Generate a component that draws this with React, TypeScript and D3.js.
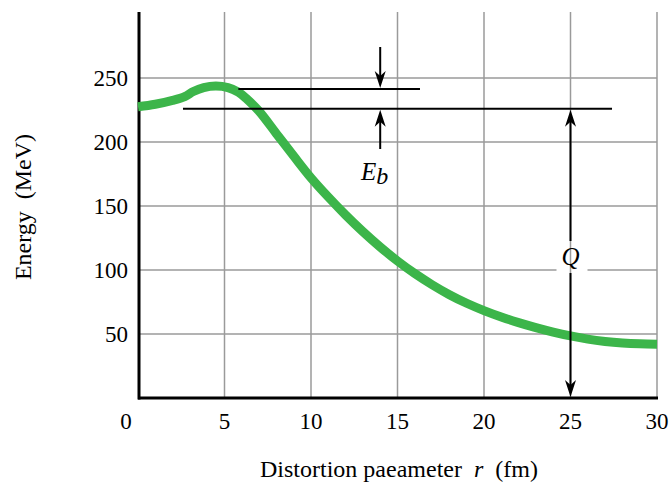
import React from "react";
import * as d3 from "d3";

// curve: distortion r (fm) -> energy (MeV)
const rValues = [0, 1, 2, 2.7, 3.2, 3.8, 4.5, 5.2, 5.8, 6.3, 7, 8, 9, 10, 11, 12, 13, 14, 15, 16, 17, 18, 19, 20, 21, 22, 23, 24, 25, 26, 27, 28, 29, 30];
const energy = [227.5, 229.5, 232.5, 235.5, 239.5, 242.5, 243.7, 242.5, 239, 233.5, 224, 206.5, 189, 172, 157, 143, 130, 118, 107, 97.2, 88.5, 80.7, 74, 68.3, 63.3, 58.9, 55, 51.5, 48.5, 46, 44.2, 43, 42.3, 42];

const xTicks = [0, 5, 10, 15, 20, 25, 30];
const yTicks = [50, 100, 150, 200, 250];

// the two levels and where they run
const upperLevel = { e: 241.5, from: 5.8, to: 16.3 };
const lowerLevel = { e: 226, from: 2.6, to: 27.4 };
const ebAt = 14;
const qAt = 25;

const W = 669;
const H = 488;
const FONT = "Liberation Serif, Times New Roman, serif";

export default function App() {
  const x = d3.scaleLinear().domain([0, 30]).range([138, 657]);
  const y = d3.scaleLinear().domain([0, 300]).range([398, 14]);

  const pts = rValues.map((r, i) => [r, energy[i]] as [number, number]);
  const line = d3
    .line<[number, number]>()
    .x((d) => x(d[0]))
    .y((d) => y(d[1]))
    .curve(d3.curveCatmullRom.alpha(0.5));

  // arrowhead pointing at (tx, ty), dir = 1 down, -1 up
  const head = (tx: number, ty: number, dir: number) => {
    const l = 17, w = 5.5, n = 5;
    return `M${tx},${ty} L${tx - w},${ty - dir * l} L${tx},${ty - dir * (l - n)} L${tx + w},${ty - dir * l} Z`;
  };

  const xe = x(ebAt);
  const xq = x(qAt);
  const yUp = y(upperLevel.e);
  const yLo = y(lowerLevel.e);
  const yQ = 256;

  return (
    <svg width={W} height={H} style={{ position: "absolute", left: 0, top: 0, background: "#fff" }}>
      {/* grid */}
      <g stroke="#9a9a9a" strokeWidth={1.5}>
        {xTicks.filter((t) => t > 0).map((t) => (
          <line key={"gx" + t} x1={x(t)} x2={x(t)} y1={y(300) - 2} y2={y(0)} />
        ))}
        {yTicks.map((t) =>
          t === 100 ? (
            <g key={"gy" + t}>
              <line x1={x(0)} x2={xq - 14} y1={y(t)} y2={y(t)} />
              <line x1={xq + 17} x2={x(30)} y1={y(t)} y2={y(t)} />
            </g>
          ) : (
            <line key={"gy" + t} x1={x(0)} x2={x(30)} y1={y(t)} y2={y(t)} />
          )
        )}
      </g>

      {/* axes */}
      <line x1={x(0) + 1} x2={x(0) + 1} y1={y(300) - 2} y2={y(0) + 1.5} stroke="#000" strokeWidth={3} />
      <line x1={x(0)} x2={x(30) + 1} y1={y(0)} y2={y(0)} stroke="#000" strokeWidth={3} />

      {/* energy curve */}
      <path d={line(pts) ?? ""} fill="none" stroke="#3cb54a" strokeWidth={9} strokeLinecap="butt" />

      {/* levels */}
      <g stroke="#000" strokeWidth={2}>
        <line x1={x(upperLevel.from)} x2={x(upperLevel.to)} y1={yUp} y2={yUp} />
        <line x1={x(lowerLevel.from)} x2={x(lowerLevel.to)} y1={yLo} y2={yLo} />
      </g>

      {/* Eb arrows */}
      <g stroke="#000" strokeWidth={2}>
        <line x1={xe} x2={xe} y1={47} y2={yUp - 8} />
        <line x1={xe} x2={xe} y1={149} y2={yLo + 8} />
      </g>
      <path d={head(xe, yUp - 1, 1)} fill="#000" />
      <path d={head(xe, yLo + 1, -1)} fill="#000" />
      <text x={361} y={180} fontFamily={FONT} fontStyle="italic" fontSize={25} fill="#000">
        E
        <tspan fontSize={24} dy={4}>b</tspan>
      </text>

      {/* Q arrows */}
      <g stroke="#000" strokeWidth={2}>
        <line x1={xq} x2={xq} y1={yQ - 15} y2={yLo + 8} />
        <line x1={xq} x2={xq} y1={yQ + 17} y2={y(0) - 8} />
      </g>
      <path d={head(xq, yLo + 1, -1)} fill="#000" />
      <path d={head(xq, y(0) - 1, 1)} fill="#000" />
      <text x={xq} y={yQ} dy="0.35em" textAnchor="middle" fontFamily={FONT} fontStyle="italic" fontSize={25} fill="#000">
        Q
      </text>

      {/* tick labels */}
      <g fontFamily={FONT} fontSize={23} fill="#000">
        {xTicks.map((t) => (
          <text key={"tx" + t} x={t === 0 ? x(t) - 12 : x(t)} y={429} textAnchor="middle">
            {t}
          </text>
        ))}
        {yTicks.map((t) => (
          <text key={"ty" + t} x={128} y={y(t)} dy="0.35em" textAnchor="end">
            {t}
          </text>
        ))}
      </g>

      {/* axis titles */}
      <text x={399} y={477} textAnchor="middle" fontFamily={FONT} fontSize={24} fill="#000" style={{ whiteSpace: "pre" }}>
        {"Distortion paeameter  "}
        <tspan fontStyle="italic">r</tspan>
        {"  (fm)"}
      </text>
      <text
        transform={`translate(31,207) rotate(-90)`}
        textAnchor="middle"
        fontFamily={FONT}
        fontSize={24}
        fill="#000"
        style={{ whiteSpace: "pre" }}
      >
        {"Energy  (MeV)"}
      </text>
    </svg>
  );
}
